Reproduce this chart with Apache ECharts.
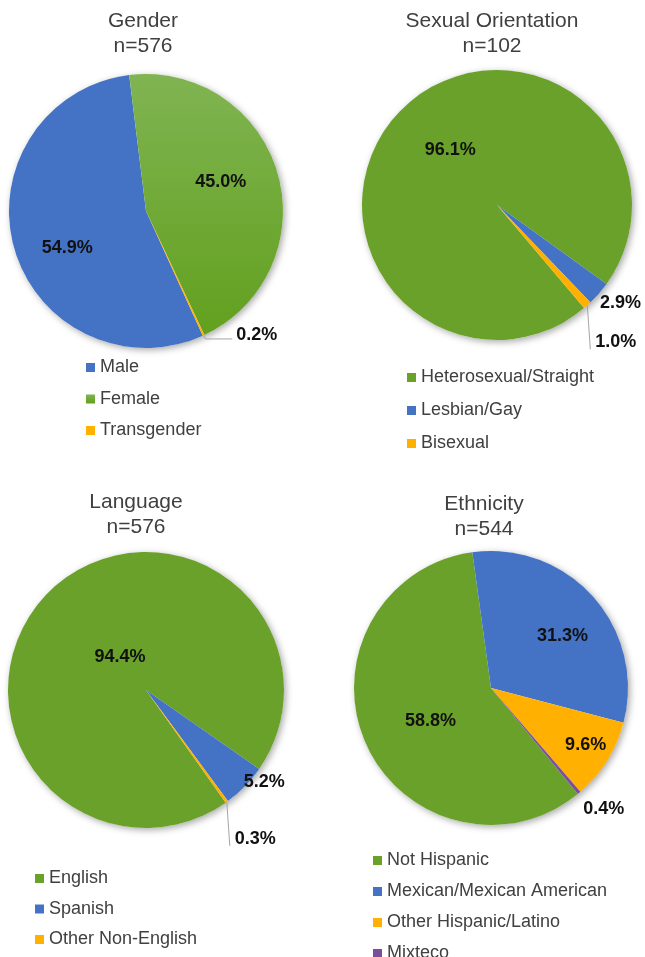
<!DOCTYPE html>
<html>
<head>
<meta charset="utf-8">
<script src="https://cdn.jsdelivr.net/npm/echarts@6/dist/echarts.min.js"></script>
<style>
	html, body { margin: 0; padding: 0; background: #fff; }
	#main { width: 645px; height: 957px; }
</style>
</head>
<body>
<div id="main"></div>
<script>
// chart data (percent of respondents)
var genderNames = ['Male', 'Female', 'Transgender'];
var genderPct = [54.9, 45.0, 0.2];
var orientationNames = ['Heterosexual/Straight', 'Lesbian/Gay', 'Bisexual'];
var orientationPct = [96.1, 2.9, 1.0];
var languageNames = ['English', 'Spanish', 'Other Non-English'];
var languagePct = [94.4, 5.2, 0.3];
var ethnicityNames = ['Not Hispanic', 'Mexican/Mexican American', 'Other Hispanic/Latino', 'Mixteco'];
var ethnicityPct = [58.8, 31.3, 9.6, 0.4];
var chartTitles = ['Gender', 'Sexual Orientation', 'Language', 'Ethnicity'];
var sampleSizes = [576, 102, 576, 544];

var FONT = '"Liberation Sans", Arial, sans-serif';
var TXT = '#404040';
var BLUE = '#4472C4', GREEN = '#6AA12A', ORANGE = '#FFB000', PURPLE = '#7B4E9B';
var femaleGreen = new echarts.graphic.LinearGradient(0, 0, 0, 1, [
	{offset: 0, color: '#80B452'},
	{offset: 1, color: '#62A01E'}
]);

// label helpers
function inLabel(off) {
	return {position: 'inside', offset: off || [0, 0]};
}
function outLabel() {
	return {position: 'outside'};
}
var noLine = {show: false, length: 0, length2: 0};

function makeData(names, vals, colors, labels, lines) {
	return names.map(function (n, i) {
		return {
			name: n,
			value: vals[i],
			itemStyle: {color: colors[i]},
			label: labels[i],
			labelLine: lines[i]
		};
	});
}

// leader line straight down from the slice edge (Excel style)
function dropLeader(params) {
	if (!params.labelLinePoints) return;
	var p = params.labelLinePoints[0];
	var p0 = [p[0], p[1]];
	var p1 = [p[0] + 3, p[1] + 44];
	return {
		labelLinePoints: [p0, p1, p1],
		x: p[0] + 8,
		y: p[1] + 37,
		align: 'left',
		verticalAlign: 'middle'
	};
}

function pieSeries(center, radius, startAngle, data, layoutFn) {
	return {
		type: 'pie',
		center: center,
		radius: radius,
		startAngle: startAngle,
		clockwise: true,
		avoidLabelOverlap: false,
		z: 2,
		itemStyle: {borderWidth: 0},
		label: {
			show: true,
			fontFamily: FONT,
			fontSize: 18,
			fontWeight: 'bold',
			color: '#111',
			distanceToLabelLine: 4,
			formatter: function (p) { return p.value.toFixed(1) + '%'; }
		},
		labelLine: {show: true, lineStyle: {color: '#a6a6a6', width: 1}},
		labelLayout: layoutFn,
		data: data
	};
}

// soft drop shadow under each pie
function shadowSeries(center, radius) {
	return {
		type: 'pie',
		center: center,
		radius: radius,
		silent: true,
		z: 1,
		label: {show: false},
		labelLine: {show: false},
		itemStyle: {color: '#fff', shadowBlur: 7, shadowColor: 'rgba(0,0,0,0.35)', shadowOffsetX: 2, shadowOffsetY: 2},
		data: [{name: '', value: 1}]
	};
}

var pies = [
	{center: [146, 211], r: 137, start: 294.5},
	{center: [497, 205], r: 135, start: 310.2},
	{center: [146, 690], r: 138, start: 305.3},
	{center: [491, 688], r: 137, start: 309.3}
];

var genderData = makeData(genderNames, genderPct, [BLUE, femaleGreen, ORANGE],
	[inLabel([-10, 18]), inLabel([6, -9]), outLabel()],
	[noLine, noLine, {show: true, length: 4, length2: 27}]);
var orientationData = makeData(orientationNames, orientationPct, [GREEN, BLUE, ORANGE],
	[inLabel([5, -7]), outLabel(), outLabel()],
	[noLine, noLine, {show: true, length: 10, length2: 0}]);
var languageData = makeData(languageNames, languagePct, [GREEN, BLUE, ORANGE],
	[inLabel([25, 18]), outLabel(), outLabel()],
	[noLine, noLine, {show: true, length: 10, length2: 0}]);
var ethnicityData = makeData(ethnicityNames, ethnicityPct, [GREEN, BLUE, ORANGE, PURPLE],
	[inLabel([5, 4]), inLabel([18, -5]), inLabel([34, 19]), outLabel()],
	[noLine, noLine, noLine, {show: false, length: 8, length2: 0}]);

var titleX = [143, 492, 136, 484];
var titleY = [4, 4, 485, 487];

function legendOf(names, left, top, gap) {
	return {
		data: names,
		orient: 'vertical',
		left: left,
		top: top,
		height: 140,
		padding: 0,
		icon: 'rect',
		itemWidth: 9,
		itemHeight: 9,
		itemGap: gap,
		selectedMode: false,
		textStyle: {fontFamily: FONT, fontSize: 18, color: TXT, lineHeight: 17, padding: [0, 0, 0, 0]}
	};
}

var myChart = echarts.init(document.getElementById('main'), null, {renderer: 'canvas'});
myChart.setOption({
	backgroundColor: '#fff',
	animation: false,
	title: chartTitles.map(function (t, i) {
		return {
			text: t + '\nn=' + sampleSizes[i],
			left: titleX[i] - 5,
			top: titleY[i],
			textAlign: 'center',
			textStyle: {fontFamily: FONT, fontSize: 21, fontWeight: 'normal', color: TXT, lineHeight: 25}
		};
	}),
	legend: [
		legendOf(genderNames, 86, 358.5, 13.5),
		legendOf(orientationNames, 407, 368.5, 15),
		legendOf(languageNames, 35, 869.5, 12.5),
		legendOf(ethnicityNames, 373, 851.5, 13)
	],
	series: [
		shadowSeries(pies[0].center, pies[0].r),
		shadowSeries(pies[1].center, pies[1].r),
		shadowSeries(pies[2].center, pies[2].r),
		shadowSeries(pies[3].center, pies[3].r),
		pieSeries(pies[0].center, pies[0].r, pies[0].start, genderData, function (params) {
			if (params.dataIndex === 2) return {dy: -4};
		}),
		pieSeries(pies[1].center, pies[1].r, pies[1].start, orientationData, function (params) {
			if (params.dataIndex === 1) return {dx: -3, dy: 9};
			if (params.dataIndex === 2) return dropLeader(params);
		}),
		pieSeries(pies[2].center, pies[2].r, pies[2].start, languageData, function (params) {
			if (params.dataIndex === 1) return {dx: -5, dy: -4};
			if (params.dataIndex === 2) return dropLeader(params);
		}),
		pieSeries(pies[3].center, pies[3].r, pies[3].start, ethnicityData, function (params) {
			if (params.dataIndex === 3) return {dx: -5, dy: 10};
		})
	]
});
</script>
</body>
</html>
